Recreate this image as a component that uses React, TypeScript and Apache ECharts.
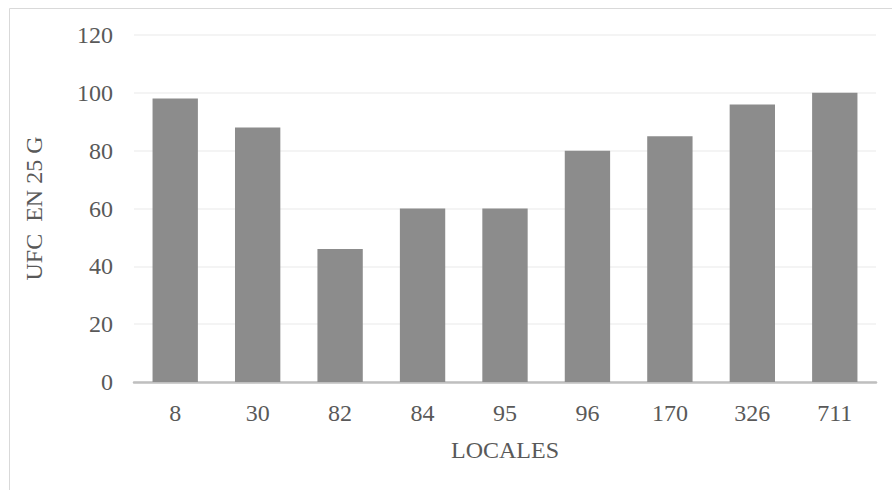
import React, { useEffect, useRef } from "react";
import * as echarts from "echarts";

const locales = ["8", "30", "82", "84", "95", "96", "170", "326", "711"];
const ufcValues = [98, 88, 46, 60, 60, 80, 85, 96, 100];

const FONT = "'Liberation Serif', 'Times New Roman', serif";
const TEXT_COLOR = "#595959";

export default function App() {
  const ref = useRef<HTMLDivElement>(null);

  useEffect(() => {
    if (!ref.current) return;
    const chart = echarts.init(ref.current, undefined, { renderer: "svg" });
    chart.setOption({
      animation: false,
      backgroundColor: "#ffffff",
      graphic: [
        {
          type: "rect",
          left: 7,
          top: 6,
          shape: { width: 900, height: 500 },
          style: { fill: "none", stroke: "#d9d9d9", lineWidth: 1 },
          silent: true,
        },
      ],
      grid: { left: 134, right: 16, top: 35, bottom: 108 },
      xAxis: {
        type: "category",
        data: locales,
        name: "LOCALES",
        nameLocation: "middle",
        nameGap: 56,
        nameTextStyle: { fontFamily: FONT, fontSize: 24, color: TEXT_COLOR },
        axisLine: { lineStyle: { color: "#bfbfbf", width: 2.5 } },
        axisTick: { show: false },
        axisLabel: { fontFamily: FONT, fontSize: 24, color: TEXT_COLOR, margin: 19 },
      },
      yAxis: {
        type: "value",
        min: 0,
        max: 120,
        interval: 20,
        name: "UFC  EN 25 G",
        nameLocation: "middle",
        nameGap: 88,
        nameTextStyle: { fontFamily: FONT, fontSize: 24, color: TEXT_COLOR },
        axisLine: { show: false },
        axisTick: { show: false },
        splitLine: { lineStyle: { color: "#f0f0f0", width: 1.5 } },
        axisLabel: { fontFamily: FONT, fontSize: 24, color: TEXT_COLOR, margin: 21 },
      },
      series: [
        {
          type: "bar",
          data: ufcValues,
          barWidth: "55%",
          itemStyle: { color: "#8c8c8c" },
        },
      ],
    });
    return () => chart.dispose();
  }, []);

  return (
    <div
      ref={ref}
      style={{ position: "fixed", left: 0, top: 0, width: 892, height: 490 }}
    />
  );
}
